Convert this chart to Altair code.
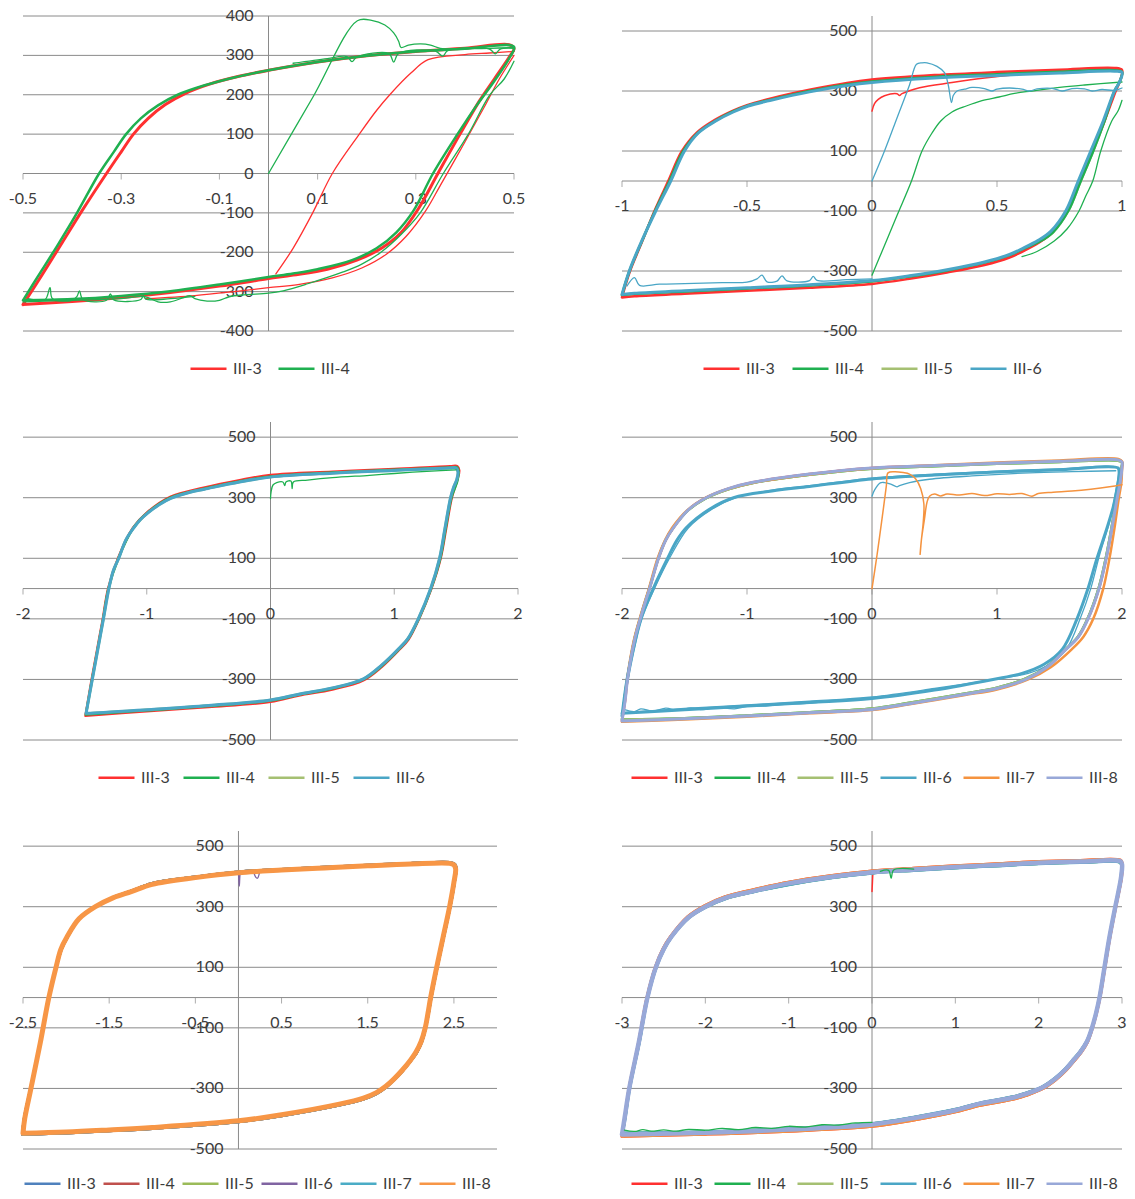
import altair as alt
import pandas as pd

FONT = "Lato"
GRID = "#8a8a8a"
TXT = "#3c3c3c"

SERIES_2 = ["III-3", "III-4"]
SERIES_4 = ["III-3", "III-4", "III-5", "III-6"]
SERIES_6 = ["III-3", "III-4", "III-5", "III-6", "III-7", "III-8"]
COLORS_MAIN = ["#ff3030", "#1fb050", "#a5c072", "#4aa6c6", "#f5933f", "#98a8d8"]
COLORS_OFFICE = ["#4f81bd", "#c0504d", "#9bbb59", "#8064a2", "#4bacc6", "#f79646"]

# ---------------- tick values / labels ----------------
P1_YTICKS = [-400, -300, -200, -100, 0, 100, 200, 300, 400]
Y_TICKS = [-500, -300, -100, 100, 300, 500]
P1_XTICKS = [-0.5, -0.3, -0.1, 0.1, 0.3, 0.5]
P1_XLABELS = ["-0.5", "-0.3", "-0.1", "0.1", "0.3", "0.5"]
P2_XTICKS = [-1, -0.5, 0, 0.5, 1]
P2_XLABELS = ["-1", "-0.5", "0", "0.5", "1"]
P34_XTICKS = [-2, -1, 0, 1, 2]
P34_XLABELS = ["-2", "-1", "0", "1", "2"]
P5_XTICKS = [-2.5, -1.5, -0.5, 0.5, 1.5, 2.5]
P5_XLABELS = ["-2.5", "-1.5", "-0.5", "0.5", "1.5", "2.5"]
P6_XTICKS = [-3, -2, -1, 0, 1, 2, 3]
P6_XLABELS = ["-3", "-2", "-1", "0", "1", "2", "3"]

# ---------------- panel 1 (±0.5) ----------------
P1_RED_LOOP = [(-0.5, -333), (-0.46, -255), (-0.42, -175), (-0.38, -95), (-0.33, 0), (-0.3, 55),
               (-0.275, 100), (-0.245, 140), (-0.21, 175), (-0.17, 203), (-0.12, 227), (-0.06, 247),
               (0, 262), (0.1, 283), (0.2, 299), (0.3, 310), (0.4, 318), (0.49, 327),
               (0.5, 318), (0.49, 295), (0.46, 240), (0.43, 185), (0.39, 100), (0.345, 0),
               (0.305, -90), (0.27, -150), (0.23, -190), (0.18, -220), (0.12, -243), (0.05, -258),
               (0, -267), (-0.1, -286), (-0.2, -302), (-0.3, -315), (-0.4, -325), (-0.5, -333)]
P1_RED_LOWER2 = [(0.5, 300), (0.47, 240), (0.44, 170), (0.4, 80), (0.35, -30), (0.32, -95),
                 (0.28, -160), (0.24, -205), (0.19, -240), (0.13, -265), (0.06, -282), (0, -290),
                 (-0.07, -300), (-0.15, -310), (-0.25, -318)]
P1_RED_INITIAL = [(0.015, -255), (0.05, -190), (0.09, -100), (0.13, 0), (0.185, 100), (0.22, 160),
                  (0.247, 200), (0.29, 255), (0.325, 289), (0.4, 302), (0.45, 306), (0.5, 310)]
P1_GREEN_LOOP = [(-0.5, -322), (-0.47, -262), (-0.43, -183), (-0.39, -100), (-0.345, 0), (-0.315, 55),
                 (-0.29, 100), (-0.26, 140), (-0.225, 173), (-0.185, 200), (-0.13, 224), (-0.07, 244),
                 (0, 262), (0.1, 283), (0.2, 299), (0.3, 310), (0.4, 317), (0.5, 322),
                 (0.49, 292), (0.46, 235), (0.425, 175), (0.385, 100), (0.335, 0), (0.295, -95),
                 (0.26, -150), (0.22, -190), (0.17, -220), (0.1, -243), (0.05, -254), (0, -263),
                 (-0.1, -282), (-0.2, -299), (-0.3, -311), (-0.4, -319), (-0.5, -322)]
P1_GREEN_OUTER = [(0.5, 285), (0.48, 240), (0.451, 200), (0.407, 100), (0.356, 0), (0.309, -100),
                  (0.27, -155), (0.229, -200), (0.19, -230), (0.152, -250), (0.08, -280), (0.03, -298),
                  (0, -304), (-0.05, -308), (-0.08, -313), (-0.1, -322), (-0.125, -324), (-0.15, -318),
                  (-0.16, -310), (-0.175, -316), (-0.2, -326), (-0.225, -326), (-0.245, -315),
                  (-0.26, -312), (-0.3, -318), (-0.4, -322), (-0.5, -326)]
P1_GREEN_INITIAL = [(0, 0), (0.09, 193), (0.181, 388), (0.21, 389), (0.237, 377), (0.255, 357),
                    (0.265, 336), (0.27, 320), (0.285, 326), (0.31, 329), (0.33, 326), (0.35, 318),
                    (0.4, 317), (0.45, 318), (0.5, 320)]
P1_GREEN_PLATEAU = [(0.05, 280), (0.12, 292), (0.16, 297), (0.17, 284), (0.18, 296), (0.245, 305),
                    (0.255, 283), (0.265, 305), (0.34, 311), (0.355, 298), (0.365, 312), (0.45, 316),
                    (0.462, 304), (0.472, 316), (0.5, 318)]
P1_GREEN_SPIKES = [(-0.49, -318), (-0.455, -320), (-0.445, -290), (-0.44, -318), (-0.4, -322),
                   (-0.39, -312), (-0.385, -298), (-0.378, -320), (-0.33, -322), (-0.322, -306),
                   (-0.315, -321), (-0.26, -320), (-0.255, -310), (-0.25, -319), (-0.2, -318),
                   (-0.15, -312)]

# ---------------- panel 2 (±1) ----------------
P2_LOOP_OUT = [(-1, -388), (-0.97, -305), (-0.92, -203), (-0.87, -100), (-0.815, 0), (-0.76, 100),
               (-0.7, 162), (-0.63, 203), (-0.56, 233), (-0.5, 253), (-0.4, 276), (-0.25, 304),
               (-0.1, 327), (0, 338), (0.25, 353), (0.5, 363), (0.75, 371), (0.97, 377), (1, 370),
               (0.995, 340), (0.975, 300), (0.93, 200), (0.88, 100), (0.83, 0), (0.78, -100),
               (0.72, -172), (0.67, -204), (0.6, -236), (0.55, -255), (0.45, -280), (0.3, -305),
               (0.15, -326), (0, -343), (-0.25, -356), (-0.5, -366), (-0.75, -376), (-0.95, -384),
               (-1, -388)]
P2_LOOP_MID = [(-1, -380), (-0.97, -300), (-0.92, -200), (-0.868, -100), (-0.81, 0), (-0.755, 100),
               (-0.697, 160), (-0.628, 200), (-0.558, 231), (-0.497, 251), (-0.4, 272), (-0.25, 300),
               (-0.1, 322), (0, 332), (0.25, 347), (0.5, 356), (0.75, 364), (0.97, 369), (1, 364),
               (0.99, 330), (0.97, 300), (0.93, 200), (0.885, 100), (0.835, 0), (0.785, -100),
               (0.725, -170), (0.675, -200), (0.6, -228), (0.55, -247), (0.45, -272), (0.3, -298),
               (0.15, -318), (0, -334), (-0.25, -348), (-0.5, -358), (-0.75, -368), (-0.95, -376),
               (-1, -380)]
P2_LOOP_IN = [(-1, -378), (-0.97, -298), (-0.92, -198), (-0.865, -100), (-0.805, 0), (-0.75, 100),
              (-0.695, 160), (-0.625, 200), (-0.555, 230), (-0.495, 250), (-0.4, 270), (-0.25, 297),
              (-0.1, 318), (0, 328), (0.25, 343), (0.5, 352), (0.75, 360), (0.97, 366), (1, 362),
              (0.99, 330), (0.97, 300), (0.925, 200), (0.875, 100), (0.825, 0), (0.775, -100),
              (0.715, -168), (0.665, -198), (0.6, -226), (0.55, -245), (0.45, -270), (0.3, -296),
              (0.15, -316), (0, -332), (-0.25, -346), (-0.5, -356), (-0.75, -366), (-0.95, -374),
              (-1, -378)]
P2_RED_INITIAL = [(0, 233), (0.01, 258), (0.025, 272), (0.05, 284), (0.1, 291), (0.11, 285),
                  (0.12, 291), (0.19, 311), (0.32, 328), (0.45, 343), (0.6, 356), (0.8, 366), (1, 372)]
P2_GREEN_INITIAL = [(0, -314), (0.05, -215), (0.1, -115), (0.158, 0), (0.2, 100), (0.24, 160),
                    (0.275, 200), (0.32, 230), (0.377, 250), (0.44, 268), (0.508, 280), (0.57, 292),
                    (0.639, 300), (0.75, 312), (0.85, 320), (1, 330)]
P2_GREEN_RIGHT = [(1, 269), (0.985, 235), (0.959, 200), (0.915, 100), (0.883, 0), (0.855, -50),
                  (0.828, -100), (0.78, -160), (0.729, -200), (0.66, -235), (0.6, -252)]
P2_TEAL_INITIAL = [(0, 0), (0.05, 100), (0.1, 210), (0.15, 320), (0.178, 389), (0.2, 394),
                   (0.22, 394), (0.26, 382), (0.29, 361), (0.305, 320), (0.318, 261), (0.325, 285),
                   (0.34, 300), (0.37, 306), (0.4, 312), (0.45, 308), (0.48, 300), (0.5, 306),
                   (0.55, 310), (0.6, 306), (0.63, 300), (0.66, 307), (0.72, 309), (0.76, 300),
                   (0.8, 308), (0.85, 307), (0.88, 300), (0.92, 305), (0.97, 302), (1, 310)]
P2_TEAL_BOTTOM = [(-0.98, -350), (-0.95, -322), (-0.93, -348), (-0.85, -344), (-0.75, -342),
                  (-0.6, -339), (-0.5, -337), (-0.46, -326), (-0.44, -314), (-0.42, -336),
                  (-0.38, -334), (-0.36, -316), (-0.34, -333), (-0.25, -332), (-0.235, -318),
                  (-0.22, -331), (-0.1, -329), (0, -326)]

# ---------------- panel 3 (±1.5) ----------------
P3_LOOP_OUT = [(-1.495, -420), (-1.445, -300), (-1.4, -200), (-1.355, -100), (-1.312, 0),
               (-1.232, 100), (-1.112, 200), (-0.995, 252), (-0.81, 303), (-0.54, 333), (-0.25, 358),
               (0, 375), (0.5, 386), (1, 395), (1.45, 404), (1.51, 404), (1.525, 390), (1.51, 360),
               (1.465, 300), (1.42, 200), (1.375, 100), (1.3, 0), (1.2, -100), (1.115, -168),
               (1.04, -202), (0.9, -258), (0.75, -303), (0.5, -333), (0.23, -353), (0, -374),
               (-0.5, -391), (-1, -405), (-1.495, -420)]
P3_LOOP_MID = [(-1.492, -416), (-1.442, -300), (-1.397, -200), (-1.352, -100), (-1.309, 0),
               (-1.229, 100), (-1.109, 200), (-0.992, 251), (-0.808, 300), (-0.537, 330),
               (-0.25, 354), (0, 370), (0.5, 383), (1, 392), (1.45, 400), (1.51, 400), (1.52, 387),
               (1.51, 355), (1.462, 300), (1.416, 200), (1.372, 100), (1.298, 0), (1.198, -100),
               (1.113, -166), (1.039, -200), (0.9, -255), (0.75, -300), (0.5, -330), (0.235, -350),
               (0, -370), (-0.5, -388), (-1, -402), (-1.492, -416)]
P3_LOOP_IN = [(-1.49, -412), (-1.44, -300), (-1.395, -200), (-1.35, -100), (-1.306, 0), (-1.27, 60),
              (-1.226, 100), (-1.17, 160), (-1.106, 200), (-1.05, 228), (-0.99, 250), (-0.9, 277),
              (-0.806, 298), (-0.65, 318), (-0.534, 328), (-0.25, 352), (0, 368), (0.5, 381),
              (1, 390), (1.45, 398), (1.5, 398), (1.515, 385), (1.505, 360), (1.48, 335),
              (1.455, 300), (1.41, 200), (1.366, 100), (1.294, 0), (1.194, -100), (1.11, -165),
              (1.037, -198), (0.9, -252), (0.751, -298), (0.5, -328), (0.237, -348), (0, -368),
              (-0.5, -386), (-1, -400), (-1.47, -412), (-1.49, -412)]
P3_GREEN_INITIAL = [(0, 297), (0.005, 320), (0.02, 342), (0.05, 350), (0.1, 352), (0.115, 340),
                    (0.125, 352), (0.165, 355), (0.175, 330), (0.185, 352), (0.3, 358), (0.5, 366),
                    (0.8, 374), (1, 380), (1.3, 388), (1.5, 392)]

# ---------------- panel 4 (±2) ----------------
P4_LOOP_OUT = [(-2, -437), (-1.975, -370), (-1.956, -300), (-1.9, -170), (-1.84, -80), (-1.78, 0),
               (-1.708, 100), (-1.65, 160), (-1.59, 200), (-1.47, 260), (-1.327, 300), (-1.15, 330),
               (-0.962, 350), (-0.5, 378), (0, 398), (0.5, 406), (1, 414), (1.5, 420), (1.97, 425),
               (2, 418), (2, 400), (1.985, 350), (1.962, 300), (1.92, 200), (1.874, 100),
               (1.816, 0), (1.728, -100), (1.65, -160), (1.553, -200), (1.4, -260), (1.231, -300),
               (1.0, -330), (0.734, -350), (0.3, -380), (0, -399), (-0.5, -410), (-1, -421),
               (-1.5, -430), (-2, -437)]
P4_LOOP_OUT2 = [(-2, -432), (-1.958, -300), (-1.902, -170), (-1.842, -80), (-1.782, 0),
                (-1.71, 100), (-1.652, 160), (-1.592, 200), (-1.472, 258), (-1.33, 298),
                (-1.15, 328), (-0.962, 348), (-0.5, 376), (0, 396), (0.5, 404), (1, 412), (1.5, 418),
                (1.97, 422), (2, 416), (1.995, 398), (1.98, 350), (1.958, 300), (1.916, 200),
                (1.87, 100), (1.812, 0), (1.724, -100), (1.646, -160), (1.55, -200), (1.4, -257),
                (1.231, -297), (1, -327), (0.734, -347), (0.3, -377), (0, -396), (-0.5, -408),
                (-1, -419), (-1.5, -428), (-2, -432)]
P4_LOOP_ORANGE = [(-2, -440), (-1.96, -300), (-1.905, -170), (-1.845, -80), (-1.785, 0),
                  (-1.715, 100), (-1.655, 160), (-1.6, 200), (-1.48, 258), (-1.34, 298),
                  (-1.16, 328), (-0.97, 348), (-0.5, 377), (0, 397), (0.5, 407), (1, 416),
                  (1.5, 423), (1.97, 428), (2, 420), (2, 395), (1.995, 350), (1.975, 300),
                  (1.94, 200), (1.9, 100), (1.85, 0), (1.77, -100), (1.69, -160), (1.6, -200),
                  (1.43, -260), (1.25, -300), (1.0, -333), (0.734, -352), (0.3, -382), (0, -401),
                  (-0.5, -412), (-1, -423), (-1.5, -432), (-2, -440)]
P4_LOOP_IN = [(-2, -420), (-1.96, -300), (-1.91, -200), (-1.85, -100), (-1.75, 0), (-1.635, 100),
              (-1.56, 160), (-1.488, 200), (-1.3, 262), (-1.108, 300), (-0.8, 322), (-0.5, 337),
              (0, 362), (0.5, 375), (1, 385), (1.5, 392), (1.97, 398), (1.98, 385), (1.96, 330),
              (1.93, 270), (1.88, 200), (1.8, 100), (1.728, 0), (1.64, -100), (1.523, -200),
              (1.377, -250), (1.2, -280), (0.968, -300), (0.5, -335), (0, -363), (-0.5, -376),
              (-1, -388), (-1.5, -400), (-2, -412)]
P4_LOOP_IN2 = [(-1.99, -410), (-1.95, -300), (-1.84, -100), (-1.74, 0), (-1.62, 100), (-1.47, 200),
               (-1.28, 262), (-1.09, 300), (-0.8, 325), (-0.5, 340), (0, 365), (0.5, 378), (1, 388),
               (1.5, 395), (1.96, 400), (1.97, 385), (1.95, 320), (1.9, 220), (1.82, 110), (1.75, 0),
               (1.665, -100), (1.555, -200), (1.42, -250), (1.25, -280), (1.0, -298), (0.5, -330),
               (0, -358), (-0.5, -372), (-1, -384), (-1.5, -396), (-1.99, -410)]
P4_TEAL_BOTTOM = [(-1.98, -400), (-1.9, -406), (-1.85, -397), (-1.75, -405), (-1.65, -395),
                  (-1.55, -402), (-1.45, -394), (-1.35, -400), (-1.25, -392), (-1.1, -397),
                  (-1.0, -389), (-0.85, -388), (-0.7, -382), (-0.55, -380), (-0.4, -374)]
P4_TEAL_INITIAL = [(0, 305), (0.02, 325), (0.066, 349), (0.1, 350), (0.15, 345), (0.2, 336),
                   (0.22, 340), (0.3, 350), (0.46, 361), (0.8, 372), (1.26, 382), (1.6, 386),
                   (1.95, 389)]
P4_ORANGE_INITIAL = [(0, 0), (0.04, 110), (0.08, 230), (0.115, 340), (0.128, 382), (0.18, 386),
                     (0.25, 383), (0.3, 378), (0.35, 362), (0.39, 330), (0.415, 280), (0.41, 220),
                     (0.395, 160), (0.385, 113), (0.395, 160), (0.42, 230), (0.44, 285), (0.46, 305),
                     (0.5, 312), (0.55, 306), (0.6, 312), (0.7, 309), (0.8, 314), (0.9, 307),
                     (1.0, 313), (1.1, 311), (1.2, 314), (1.28, 305), (1.33, 314), (1.45, 318),
                     (1.6, 322), (1.75, 328), (1.9, 336), (2.0, 343)]

# ---------------- panel 5 (±2.5) ----------------
P5_LOOP_A = [(-2.5, -448), (-2.48, -400), (-2.408, -300), (-2.3, -150), (-2.2, 0), (-2.117, 100),
             (-2.06, 160), (-1.99, 200), (-1.85, 260), (-1.66, 300), (-1.45, 330), (-1.244, 350),
             (-1, 374), (-0.5, 396), (0, 412), (0.5, 421), (1, 428), (1.5, 435), (2, 441),
             (2.45, 443), (2.5, 438), (2.52, 425), (2.5, 380), (2.45, 300), (2.375, 200),
             (2.3, 100), (2.23, 0), (2.2, -50), (2.167, -100), (2.12, -145), (2.06, -180),
             (2.0, -205), (1.9, -240), (1.8, -270), (1.71, -293), (1.6, -314), (1.45, -332),
             (1.17, -352), (0.5, -387), (0, -407), (-1, -429), (-1.5, -437), (-2, -444),
             (-2.5, -448)]
P5_LOOP_B = [(-2.505, -452), (-2.485, -400), (-2.41, -300), (-2.302, -150), (-2.2, 0),
             (-2.115, 100), (-2.055, 160), (-1.985, 200), (-1.845, 262), (-1.65, 302),
             (-1.44, 332), (-1.24, 352), (-1, 377), (-0.5, 398), (0, 415), (0.5, 423), (1, 430),
             (1.5, 437), (2, 443), (2.45, 446), (2.51, 440), (2.525, 428), (2.505, 380),
             (2.455, 300), (2.38, 200), (2.305, 100), (2.235, 0), (2.205, -50), (2.17, -100),
             (2.125, -147), (2.065, -183), (2.0, -208), (1.9, -243), (1.8, -273), (1.71, -296),
             (1.6, -317), (1.45, -335), (1.17, -355), (0.5, -390), (0, -410), (-1, -432),
             (-1.5, -440), (-2, -447), (-2.505, -452)]
P5_SPIKE = [(0, 412), (0.005, 385), (0.01, 368), (0.015, 395), (0.02, 412)]
P5_DIP = [(0.17, 419), (0.2, 398), (0.22, 394), (0.25, 420)]

# ---------------- panel 6 (±3) ----------------
P6_LOOP = [(-3, -452), (-2.97, -400), (-2.913, -300), (-2.8, -150), (-2.695, 0), (-2.594, 100),
           (-2.5, 160), (-2.41, 200), (-2.2, 265), (-2.0, 300), (-1.75, 330), (-1.45, 350),
           (-1, 377), (-0.5, 398), (0, 414), (0.5, 423), (1, 431), (1.5, 438), (2, 445),
           (2.5, 449), (2.98, 450), (3, 440), (2.99, 400), (2.95, 340), (2.92, 300), (2.85, 200),
           (2.79, 100), (2.73, 0), (2.69, -50), (2.64, -100), (2.58, -145), (2.5, -180),
           (2.43, -203), (2.33, -235), (2.2, -268), (2.04, -298), (1.85, -318), (1.7, -330),
           (1.3, -350), (1.0, -372), (0.5, -398), (0, -419), (-1, -436), (-2, -446),
           (-2.98, -452)]
P6_LOOP_OUTER = [(-3, -458), (-2.97, -402), (-2.915, -300), (-2.802, -150), (-2.7, 0),
                 (-2.6, 100), (-2.51, 160), (-2.42, 200), (-2.21, 267), (-2.01, 303),
                 (-1.76, 333), (-1.46, 354), (-1, 381), (-0.5, 402), (0, 418), (0.5, 427),
                 (1, 435), (1.5, 442), (2, 449), (2.5, 453), (2.98, 454), (3, 445), (2.995, 400),
                 (2.955, 340), (2.925, 300), (2.855, 200), (2.795, 100), (2.735, 0),
                 (2.695, -50), (2.645, -100), (2.585, -147), (2.505, -183), (2.435, -206),
                 (2.335, -238), (2.2, -272), (2.04, -302), (1.85, -323), (1.7, -335),
                 (1.3, -356), (1.0, -377), (0.5, -404), (0, -425), (-1, -441), (-2, -451),
                 (-2.98, -458)]
P6_LOOP_INNER = [(-2.99, -446), (-2.96, -400), (-2.905, -300), (-2.79, -150), (-2.688, 0),
                 (-2.585, 100), (-2.49, 160), (-2.4, 200), (-2.19, 264), (-1.99, 298),
                 (-1.74, 327), (-1.44, 347), (-1, 372), (-0.5, 394), (0, 410), (0.5, 419),
                 (1, 427), (1.5, 434), (2, 441), (2.5, 445), (2.97, 446), (2.99, 438),
                 (2.985, 400), (2.945, 340), (2.915, 300), (2.845, 200), (2.785, 100),
                 (2.725, 0), (2.685, -50), (2.635, -100), (2.575, -143), (2.495, -177),
                 (2.425, -200), (2.325, -232), (2.2, -264), (2.04, -294), (1.85, -314),
                 (1.7, -326), (1.3, -347), (1.0, -368), (0.5, -394), (0, -415), (-1, -432),
                 (-2, -442), (-2.97, -446)]
P6_GREEN_NOISE = [(-2.97, -438), (-2.85, -442), (-2.75, -436), (-2.65, -441), (-2.5, -437),
                  (-2.35, -441), (-2.2, -435), (-2.0, -438), (-1.8, -432), (-1.6, -436),
                  (-1.4, -429), (-1.2, -432), (-1.0, -425), (-0.8, -428), (-0.6, -420),
                  (-0.4, -421), (-0.2, -414), (0, -412)]
P6_GREEN_DIP = [(0.1, 417), (0.2, 420), (0.23, 394), (0.26, 421), (0.5, 424)]
P6_RED_SPIKE = [(0, 350), (0.005, 380), (0.01, 410)]


def build_panel(traces, series, colors, xdom, ydom, w, h, xticks, xlabels, yticks,
                lx, ly, cpad):
    xs = alt.Scale(domain=xdom, nice=False, zero=False)
    ys = alt.Scale(domain=ydom, nice=False, zero=False)
    layers = []
    layers.append(alt.Chart(pd.DataFrame({"v": yticks})).mark_rule(color=GRID, strokeWidth=1)
                  .encode(y=alt.Y("v:Q", scale=ys, axis=None)))
    layers.append(alt.Chart(pd.DataFrame({"v": [0]})).mark_rule(color=GRID, strokeWidth=1)
                  .encode(y=alt.Y("v:Q", scale=ys, axis=None)))
    layers.append(alt.Chart(pd.DataFrame({"v": [0]})).mark_rule(color=GRID, strokeWidth=1)
                  .encode(x=alt.X("v:Q", scale=xs, axis=None)))
    xt = pd.DataFrame({"v": xticks, "t": xlabels, "z": [0] * len(xticks)})
    layers.append(alt.Chart(xt).mark_tick(color=GRID, orient="vertical", size=6, thickness=1,
                                           yOffset=3)
                  .encode(x=alt.X("v:Q", scale=xs, axis=None), y=alt.Y("z:Q", scale=ys, axis=None)))
    layers.append(alt.Chart(xt).mark_text(font=FONT, fontSize=16, color=TXT, align="center",
                                           baseline="middle", dy=25)
                  .encode(x=alt.X("v:Q", scale=xs, axis=None), y=alt.Y("z:Q", scale=ys, axis=None),
                          text="t:N"))
    yt = pd.DataFrame({"v": yticks, "t": [str(v) for v in yticks], "z": [0] * len(yticks)})
    layers.append(alt.Chart(yt).mark_text(font=FONT, fontSize=16, color=TXT, align="right",
                                           baseline="middle", dx=-15)
                  .encode(y=alt.Y("v:Q", scale=ys, axis=None), x=alt.X("z:Q", scale=xs, axis=None),
                          text="t:N"))
    leg = alt.Legend(orient="none", legendX=lx, legendY=ly, direction="horizontal", title=None,
                     symbolType="stroke", symbolSize=1296, symbolStrokeWidth=2.5,
                     labelFont=FONT, labelFontSize=16, labelColor=TXT, labelOffset=5,
                     columnPadding=cpad, padding=0)
    cscale = alt.Scale(domain=series, range=colors)
    for s, wd, pts in traces:
        df = pd.DataFrame(pts, columns=["x", "y"])
        df["s"] = s
        df["i"] = range(len(pts))
        layers.append(alt.Chart(df).mark_line(strokeWidth=wd, strokeJoin="round", strokeCap="round",
                                              interpolate="catmull-rom")
                      .encode(x=alt.X("x:Q", scale=xs, axis=None),
                              y=alt.Y("y:Q", scale=ys, axis=None),
                              color=alt.Color("s:N", scale=cscale, legend=leg),
                              order="i:Q"))
    return alt.layer(*layers).properties(width=w, height=h)


p1 = build_panel([("III-3", 1.3, P1_RED_LOWER2), ("III-3", 1.3, P1_RED_INITIAL),
                  ("III-3", 3.0, P1_RED_LOOP), ("III-4", 1.3, P1_GREEN_OUTER),
                  ("III-4", 1.3, P1_GREEN_INITIAL), ("III-4", 1.3, P1_GREEN_PLATEAU),
                  ("III-4", 1.3, P1_GREEN_SPIKES), ("III-4", 2.5, P1_GREEN_LOOP)],
                 SERIES_2, COLORS_MAIN[:2], [-0.5, 0.5], [-400, 400], 491, 315,
                 P1_XTICKS, P1_XLABELS, P1_YTICKS, 166, 333, 11)

p2 = build_panel([("III-5", 2.5, P2_LOOP_MID), ("III-3", 2.5, P2_LOOP_OUT),
                  ("III-3", 1.5, P2_RED_INITIAL), ("III-4", 2.5, P2_LOOP_MID),
                  ("III-4", 1.3, P2_GREEN_INITIAL), ("III-4", 1.3, P2_GREEN_RIGHT),
                  ("III-6", 3.0, P2_LOOP_IN), ("III-6", 1.3, P2_TEAL_INITIAL),
                  ("III-6", 1.3, P2_TEAL_BOTTOM)],
                 SERIES_4, COLORS_MAIN[:4], [-1, 1], [-500, 550], 500, 315,
                 P2_XTICKS, P2_XLABELS, Y_TICKS, 80, 333, 12)

p3 = build_panel([("III-3", 2.5, P3_LOOP_OUT), ("III-4", 2.5, P3_LOOP_MID),
                  ("III-5", 2.5, P3_LOOP_IN), ("III-6", 3.0, P3_LOOP_IN),
                  ("III-4", 1.3, P3_GREEN_INITIAL)],
                 SERIES_4, COLORS_MAIN[:4], [-2, 2], [-500, 550], 495, 318,
                 P34_XTICKS, P34_XLABELS, Y_TICKS, 74, 336, 8)

p4 = build_panel([("III-3", 2.5, P4_LOOP_OUT), ("III-4", 2.5, P4_LOOP_OUT2),
                  ("III-5", 2.5, P4_LOOP_OUT2), ("III-7", 2.5, P4_LOOP_ORANGE),
                  ("III-6", 1.3, P4_LOOP_IN2), ("III-6", 3.0, P4_LOOP_IN),
                  ("III-6", 1.3, P4_TEAL_BOTTOM), ("III-6", 1.3, P4_TEAL_INITIAL),
                  ("III-8", 3.0, P4_LOOP_OUT), ("III-7", 1.5, P4_ORANGE_INITIAL)],
                 SERIES_6, COLORS_MAIN, [-2, 2], [-500, 550], 500, 318,
                 P34_XTICKS, P34_XLABELS, Y_TICKS, 8, 336, 6)

p5 = build_panel([("III-3", 3.0, P5_LOOP_B), ("III-4", 3.0, P5_LOOP_B),
                  ("III-5", 3.0, P5_LOOP_B), ("III-6", 3.0, P5_LOOP_B),
                  ("III-6", 1.3, P5_SPIKE), ("III-6", 1.3, P5_DIP),
                  ("III-7", 3.0, P5_LOOP_B), ("III-8", 5.0, P5_LOOP_A)],
                 SERIES_6, COLORS_OFFICE, [-2.5, 3], [-500, 550], 474, 318,
                 P5_XTICKS, P5_XLABELS, Y_TICKS, 0, 333, 2)

p6 = build_panel([("III-3", 1.5, P6_RED_SPIKE), ("III-3", 3.0, P6_LOOP_OUTER),
                  ("III-4", 2.0, P6_LOOP_INNER), ("III-5", 2.0, P6_LOOP_INNER),
                  ("III-6", 2.5, P6_LOOP_INNER), ("III-7", 3.0, P6_LOOP_OUTER),
                  ("III-8", 4.5, P6_LOOP), ("III-4", 1.3, P6_GREEN_NOISE),
                  ("III-4", 1.3, P6_GREEN_DIP)],
                 SERIES_6, COLORS_MAIN, [-3, 3], [-500, 550], 500, 318,
                 P6_XTICKS, P6_XLABELS, Y_TICKS, 8, 333, 6)

row1 = alt.hconcat(p1, p2, spacing=108, bounds="flush").resolve_scale(color="independent")
row2 = alt.hconcat(p3, p4, spacing=104, bounds="flush").resolve_scale(color="independent")
row3 = alt.hconcat(p5, p6, spacing=125, bounds="flush").resolve_scale(color="independent")

chart = (alt.vconcat(row1, row2, row3, spacing=44)
         .resolve_scale(color="independent")
         .configure_view(stroke=None)
         .properties(padding={"top": 0, "left": 0, "right": 0, "bottom": 0},
                     background="white"))

chart.save("out.html", embed_options={"renderer": "svg", "actions": False})
